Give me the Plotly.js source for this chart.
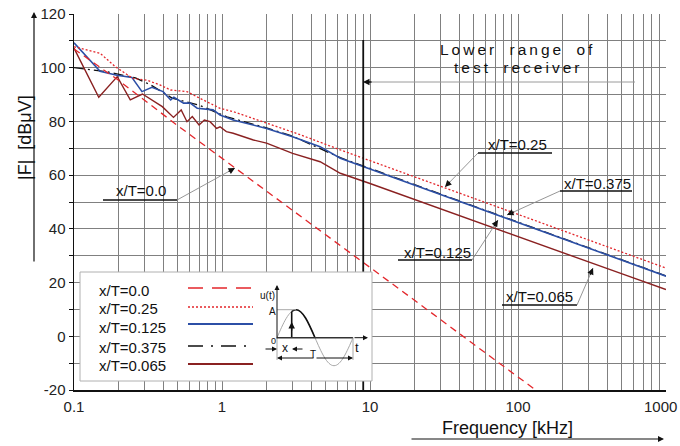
<!DOCTYPE html>
<html>
<head>
<meta charset="utf-8">
<script src="https://cdn.plot.ly/plotly-3.0.1.min.js"></script>
<style>
html,body{margin:0;padding:0;background:#fff;}
#chart{width:680px;height:446px;}
</style>
</head>
<body>
<div id="chart"></div>
<script>
// ---------------- DATA ----------------
const seriesNames = ["x/T=0.0", "x/T=0.25", "x/T=0.125", "x/T=0.375", "x/T=0.065"];

const freqT000 = [0.1, 0.2, 0.5, 1, 2, 5, 10, 20, 50, 100, 150];
const magT000  = [107, 95.3, 78.5, 66.3, 54.1, 37.8, 25.6, 13.4, -2.9, -15.1, -22.3];

const freqT250 = [0.1, 0.15, 0.19, 0.25, 0.31, 0.38, 0.45, 0.58, 0.71, 0.97, 1.2, 1.6, 2.2, 3.4, 6.3, 10, 20, 50, 100, 200, 500, 1000];
const magT250  = [107.8, 105.4, 100.4, 96.0, 95.4, 93.6, 91.7, 91.1, 88.6, 84.9, 83.6, 81.2, 78.7, 75.0, 69.4, 65.4, 59.4, 51.4, 45.4, 39.4, 31.4, 25.4];

const freqT125 = [0.1, 0.15, 0.195, 0.246, 0.288, 0.336, 0.40, 0.45, 0.473, 0.55, 0.61, 0.68, 0.87, 0.97, 1.19, 1.47, 2.0, 3.0, 4.6, 6.3, 10, 20, 50, 100, 200, 500, 1000];
const magT125  = [109.3, 98.7, 97.2, 96.4, 91.1, 92.7, 91.1, 88.0, 89.0, 86.8, 86.8, 84.9, 84.3, 82.4, 80.5, 79.3, 77.4, 74.3, 70.6, 66.3, 62.3, 56.3, 48.3, 42.3, 36.3, 28.3, 22.4];

const freqT375 = [0.1, 0.17, 0.26, 0.33, 0.46, 0.7, 1.08, 2, 3, 6.3, 10, 100, 1000];
const magT375  = [100, 98.4, 96.2, 93.6, 88.7, 86.1, 81.7, 77.6, 74.5, 66.5, 62.5, 42.5, 22.5];

const freqT065 = [0.1, 0.147, 0.196, 0.24, 0.29, 0.395, 0.47, 0.53, 0.58, 0.63, 0.70, 0.76, 0.83, 0.92, 0.97, 1.07, 1.19, 1.63, 2.0, 3.0, 4.6, 6.3, 10, 20, 50, 100, 200, 500, 1000];
const magT065  = [107.3, 89.0, 96.7, 88.0, 90.2, 85.5, 81.5, 84.3, 79.9, 81.8, 78.7, 80.5, 79.9, 77.4, 78.0, 76.2, 75.6, 73.1, 71.9, 68.1, 65.0, 60.7, 56.9, 50.9, 43.0, 37.1, 31.2, 23.3, 17.4];

const receiverLowerKHz = 9;

const xTickVals = [0.1,0.2,0.3,0.4,0.5,0.6,0.7,0.8,0.9,1,2,3,4,5,6,7,8,9,10,20,30,40,50,60,70,80,90,100,200,300,400,500,600,700,800,900,1000];
const xTickLabels = {0.1:"0.1", 1:"1", 10:"10", 100:"100"};
const xLastTickLabel = "1000";
const yTickVals = [-20,-10,0,10,20,30,40,50,60,70,80,90,100,110,120];
const yTickLabels = {"-20":"-20", "0":"0", "20":"20", "40":"40", "60":"60", "80":"80", "100":"100", "120":"120"};

// ---------------- STYLE ----------------
const RED = '#e3262b', BLUE = '#2c4fa6', BROWN = '#8a2121', BLACK = '#111';
const FONT = 'Arial, "Liberation Sans", sans-serif';
const L = 74, T = 14, W = 592, H = 376;
function px(x){ return (x - L) / W; }
function py(y){ return (T + H - y) / H; }

const traces = [
  {x: freqT375, y: magT375, name: seriesNames[3], mode: 'lines', line: {color: BLACK, width: 1.3, dash: '10px,4px,2px,4px'}},
  {x: freqT065, y: magT065, name: seriesNames[4], mode: 'lines', line: {color: BROWN, width: 1.4}},
  {x: freqT125, y: magT125, name: seriesNames[2], mode: 'lines', line: {color: BLUE, width: 1.6}},
  {x: freqT250, y: magT250, name: seriesNames[1], mode: 'lines', line: {color: RED, width: 1.3, dash: '2px,2px'}},
  {x: freqT000, y: magT000, name: seriesNames[0], mode: 'lines', line: {color: RED, width: 1.3, dash: '7px,5px'}}
];

const shapes = [];
const annotations = [];

function pline(x0, y0, x1, y1, color, width, dash){
  shapes.push({type: 'line', xref: 'paper', yref: 'paper', x0: px(x0), y0: py(y0), x1: px(x1), y1: py(y1),
    line: {color: color, width: width, dash: dash || 'solid'}, layer: 'above'});
}
function whiteBox(x0, y0, x1, y1, layer){
  shapes.push({type: 'rect', xref: 'paper', yref: 'paper', x0: px(x0), y0: py(y1), x1: px(x1), y1: py(y0),
    fillcolor: '#fff', line: {width: 0}, layer: layer || 'between'});
}
function text(t, cx, cy, size, anchor, extra){
  annotations.push(Object.assign({xref: 'paper', yref: 'paper', x: px(cx), y: py(cy), text: t, showarrow: false,
    font: {family: FONT, size: size, color: BLACK}, xanchor: anchor || 'center', yanchor: 'middle'}, extra || {}));
}
function head(tx, ty, fx, fy, color, len){
  const dx = fx - tx, dy = fy - ty, d = Math.hypot(dx, dy), l = len || 10;
  annotations.push({xref: 'paper', yref: 'paper', x: px(tx), y: py(ty), ax: dx / d * l, ay: dy / d * l,
    axref: 'pixel', ayref: 'pixel', text: '', showarrow: true, arrowhead: 2, arrowsize: 1, arrowwidth: 1.3,
    arrowcolor: color || BLACK, standoff: 0});
}
function fullArrow(tx, ty, fx, fy, color, width){
  annotations.push({xref: 'paper', yref: 'paper', x: px(tx), y: py(ty), ax: fx - tx, ay: fy - ty,
    axref: 'pixel', ayref: 'pixel', text: '', showarrow: true, arrowhead: 2, arrowsize: 1, arrowwidth: width || 1.2,
    arrowcolor: color || BLACK, standoff: 0});
}

// white boxes behind labels (cover gridlines only)
whiteBox(440, 30, 600, 80);
whiteBox(90, 168, 190, 205);
whiteBox(475, 130, 560, 156);
whiteBox(555, 172, 640, 194);
whiteBox(395, 236, 478, 264);
whiteBox(500, 280, 580, 308);

// 9 kHz receiver limit line
shapes.push({type: 'line', xref: 'x', yref: 'paper', x0: receiverLowerKHz, x1: receiverLowerKHz, y0: 0, y1: py(40),
  line: {color: BLACK, width: 1.8}, layer: 'above'});

// Lower range annotation
text('Lower range of', 518, 50, 15.5, 'center');
text('test receiver', 518, 68, 15.5, 'center');
pline(635, 82, 366, 82, '#9a9a9a', 1);
head(363, 82, 635, 82, BLACK, 10);

// series labels with underline + leader
const labels = [
  {t: seriesNames[0], cx: 141, cy: 190, u0: 103, u1: 177, uy: 200, fx: 177, fy: 200, tx: 235, ty: 168},
  {t: seriesNames[1], cx: 517, cy: 144, u0: 478, u1: 552, uy: 153, fx: 478, fy: 153, tx: 445, ty: 187},
  {t: seriesNames[3], cx: 597, cy: 183, u0: 560, u1: 632, uy: 191, fx: 560, fy: 191, tx: 507, ty: 215},
  {t: seriesNames[2], cx: 437, cy: 252, u0: 398, u1: 472, uy: 260, fx: 472, fy: 260, tx: 498, ty: 220},
  {t: seriesNames[4], cx: 539, cy: 296, u0: 502, u1: 577, uy: 305, fx: 577, fy: 305, tx: 593, ty: 268}
];
labels.forEach(function(o){
  text(o.t, o.cx, o.cy, 15);
  pline(o.u0, o.uy, o.u1, o.uy, BLACK, 1.3);
  pline(o.fx, o.fy, o.tx, o.ty, '#8a8a8a', 0.9);
  head(o.tx, o.ty, o.fx, o.fy, BLACK, 9);
});

// last x tick label (kept inside the figure, right aligned as in the original)
text(xLastTickLabel, 679, 406, 15, 'right', {font: {family: FONT, size: 15, color: '#222'}});

// axis arrows and titles
fullArrow(34, 12, 34, 263, BLACK, 1.2);
text('|F|&nbsp;&nbsp;[dBμV]', 25, 138, 18, 'center', {textangle: -90});
fullArrow(664, 439, 410, 439, BLACK, 1.2);
text('Frequency [kHz]', 507, 428, 18);

// custom legend
shapes.push({type: 'rect', xref: 'paper', yref: 'paper', x0: px(80), y0: py(381), x1: px(372), y1: py(272),
  fillcolor: '#fff', line: {color: '#b0b0b0', width: 1}, layer: 'above'});
const legRows = [
  {t: seriesNames[0], ty: 290, ly: 288, color: RED, width: 1.5, dash: '15px,9px'},
  {t: seriesNames[1], ty: 308, ly: 307, color: RED, width: 1.5, dash: '2px,2px'},
  {t: seriesNames[2], ty: 327, ly: 324, color: BLUE, width: 2, dash: 'solid'},
  {t: seriesNames[3], ty: 347, ly: 346, color: BLACK, width: 1.7, dash: '15px,8px,2px,8px'},
  {t: seriesNames[4], ty: 365, ly: 364, color: BROWN, width: 2, dash: 'solid'}
];
legRows.forEach(function(r){
  text(r.t, 97, r.ty, 15, 'left');
  pline(188, r.ly, 253, r.ly, r.color, r.width, r.dash);
});

// inset sketch u(t)
const G = '#a8a8a8';
shapes.push({type: 'path', xref: 'paper', yref: 'paper', layer: 'above', line: {color: G, width: 1},
  path: 'M' + px(277) + ',' + py(337.7) +
        ' C' + px(283.2) + ',' + py(323.4) + ' ' + px(289.1) + ',' + py(309.7) + ' ' + px(296) + ',' + py(309.7) +
        ' C' + px(302.9) + ',' + py(309.7) + ' ' + px(308.8) + ',' + py(323.4) + ' ' + px(315) + ',' + py(337.7) +
        ' C' + px(321.2) + ',' + py(352.0) + ' ' + px(327.1) + ',' + py(365.7) + ' ' + px(334) + ',' + py(365.7) +
        ' C' + px(340.9) + ',' + py(365.7) + ' ' + px(346.8) + ',' + py(352.0) + ' ' + px(353) + ',' + py(337.7)});
shapes.push({type: 'path', xref: 'paper', yref: 'paper', layer: 'above', line: {color: BLACK, width: 1.6},
  path: 'M' + px(291.7) + ',' + py(311.5) +
        ' C' + px(293.5) + ',' + py(310) + ' ' + px(294.5) + ',' + py(309.7) + ' ' + px(296) + ',' + py(309.7) +
        ' C' + px(302.9) + ',' + py(309.7) + ' ' + px(308.8) + ',' + py(323.4) + ' ' + px(315) + ',' + py(337.7)});
pline(291.7, 337.7, 291.7, 311.5, BLACK, 1.6);
head(291.7, 322, 291.7, 337, BLACK, 10);
pline(277, 309.7, 296, 309.7, G, 1);
pline(277, 337.7, 353, 337.7, '#333', 1.6);
fullArrow(368, 337.7, 353, 337.7, BLACK, 1);
fullArrow(277, 285, 277, 340, BLACK, 1);
pline(277, 337.7, 277, 360, G, 1);
pline(353, 337.7, 353, 360, G, 1);
fullArrow(277, 349, 264, 349, BLACK, 1);
fullArrow(292, 349, 304, 349, BLACK, 1);
fullArrow(277, 358, 315, 358, BLACK, 1);
fullArrow(353, 358, 315, 358, BLACK, 1);
text('u(t)', 267, 295, 10);
text('A', 272, 311, 10);
text('0', 273, 341, 9);
text('x', 285, 348, 12);
text('T', 313, 354, 10);
text('t', 357, 347, 13);

const layout = {
  width: 680, height: 446,
  margin: {l: L, r: 680 - L - W, t: T, b: 446 - T - H},
  paper_bgcolor: '#fff', plot_bgcolor: '#fff',
  showlegend: false,
  font: {family: FONT, size: 15, color: '#222'},
  xaxis: {
    type: 'log', range: [-1, 3],
    tickvals: xTickVals,
    ticktext: xTickVals.map(function(v){ return xTickLabels[v] || ''; }),
    showgrid: true, gridcolor: '#808080', gridwidth: 1,
    showline: true, linecolor: BLACK, linewidth: 1.5,
    ticks: '', ticklabelstandoff: 2,
    tickfont: {family: FONT, size: 15, color: '#222'},
    zeroline: false, fixedrange: true
  },
  yaxis: {
    range: [-20, 120],
    tickvals: yTickVals,
    ticktext: yTickVals.map(function(v){ return yTickLabels[String(v)] || ''; }),
    showgrid: true, gridcolor: '#808080', gridwidth: 1,
    showline: true, linecolor: BLACK, linewidth: 1.5,
    ticks: 'outside', ticklen: 4, tickcolor: BLACK,
    tickfont: {family: FONT, size: 15, color: '#222'},
    zeroline: false, fixedrange: true
  },
  shapes: shapes,
  annotations: annotations
};

Plotly.newPlot('chart', traces, layout, {displayModeBar: false, staticPlot: true}).then(function(){
  document.querySelectorAll('g.annotation text').forEach(function(el){
    const t = el.textContent;
    if (t === 'Lower range of' || t === 'test receiver') {
      el.style.letterSpacing = '3px';
      el.style.wordSpacing = '5px';
    }
  });
});
</script>
</body>
</html>
